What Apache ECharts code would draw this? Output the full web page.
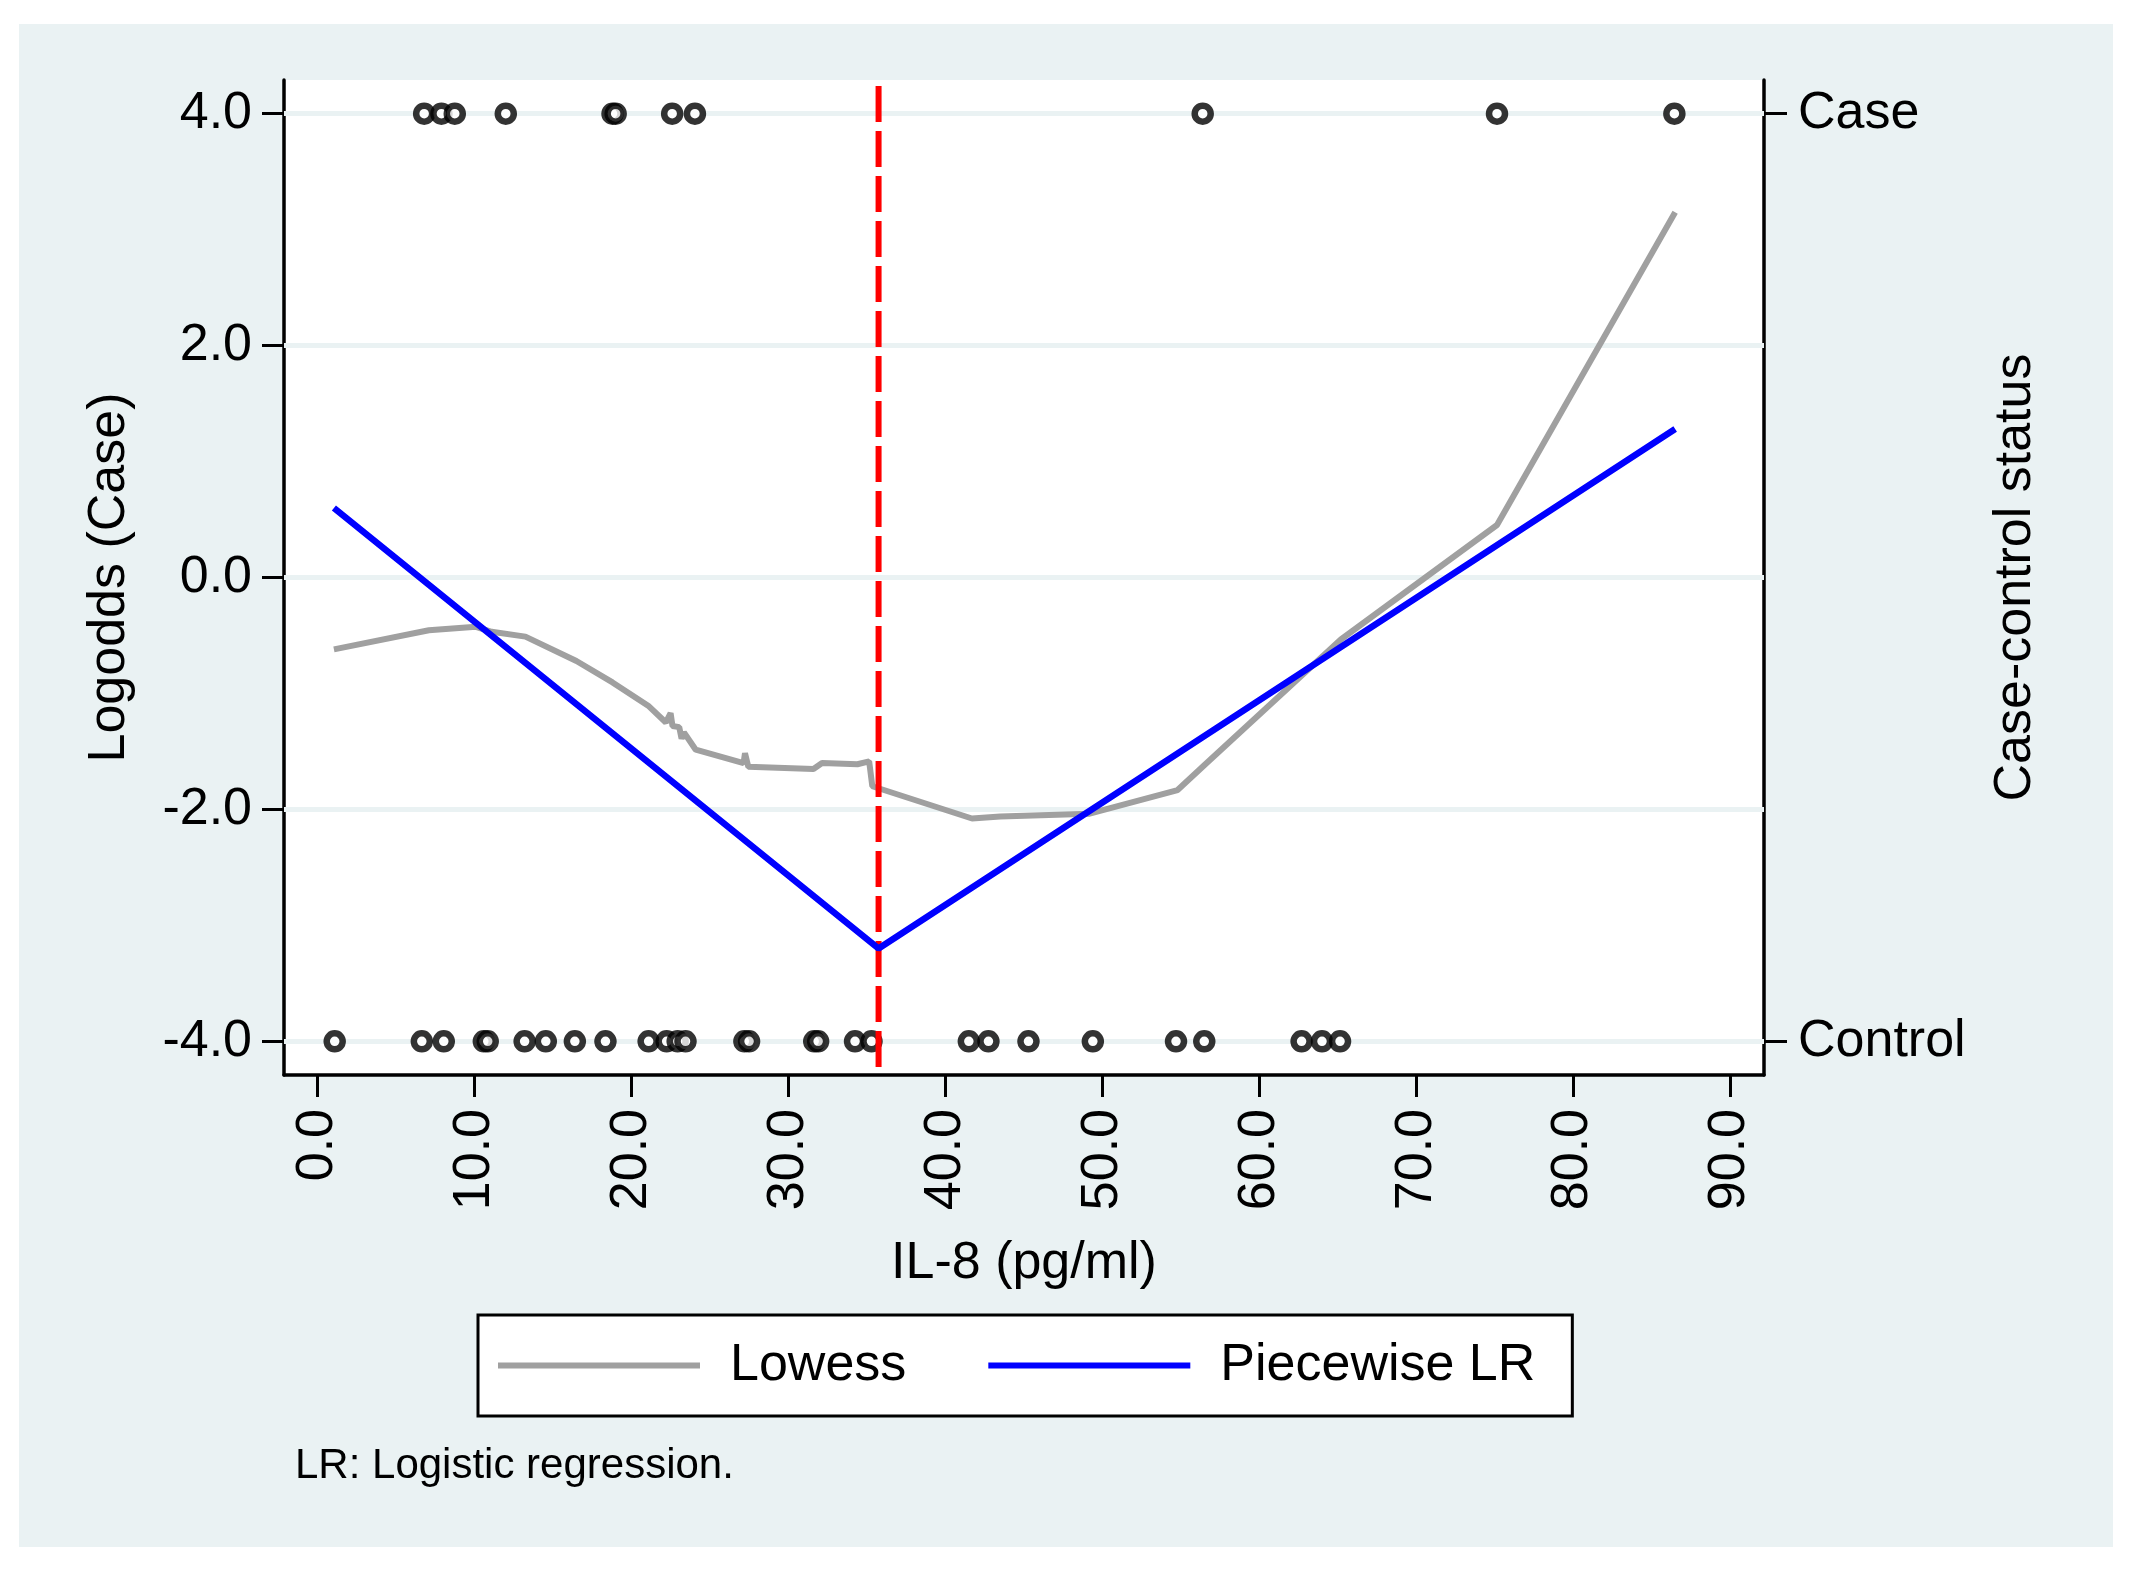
<!DOCTYPE html>
<html>
<head>
<meta charset="utf-8">
<script src="https://cdn.jsdelivr.net/npm/echarts@6/dist/echarts.min.js"></script>
<style>
  html, body { margin: 0; padding: 0; background: #ffffff; }
  #chart { position: absolute; left: 19px; top: 24px; width: 2094px; height: 1523px; }
</style>
</head>
<body>
<div id="chart"></div>
<script>
// ---- data ----
const yTicks = [-4, -2, 0, 2, 4];
const xTicks = [0, 10, 20, 30, 40, 50, 60, 70, 80, 90];
const statusTicks = [-4, 4];
const statusLabels = { '4': 'Case', '-4': 'Control' };

// IL-8 values of cases (plotted at Case = 4) and controls (plotted at Control = -4)
const caseX = [6.8, 7.9, 8.75, 12.0, 18.8, 19.0, 22.6, 24.05, 56.4, 75.15, 86.45];
const controlX = [1.1, 6.65, 8.05, 10.6, 10.85, 13.2, 14.55, 16.4, 18.35, 21.1, 22.25, 22.95, 23.45,
  27.2, 27.5, 31.65, 31.9, 34.25, 35.3, 41.5, 42.75, 45.3, 49.4, 54.7, 56.5, 62.7, 64.0, 65.15];

// Lowess smoother (x, logodds)
const lowessX = [1.05, 7.1, 10.1, 11.1, 13.25, 16.5, 18.8, 21.07, 22.2, 22.5, 22.62, 23.05, 23.2, 23.35,
  24.1, 27.15, 27.24, 27.45, 31.6, 32.15, 34.4, 35.15, 35.35, 41.7, 43.5, 49.2, 54.8, 56.55, 65.2, 75.15, 86.5];
const lowessY = [-0.62, -0.455, -0.425, -0.468, -0.51, -0.72, -0.905, -1.105, -1.25, -1.17, -1.28, -1.29, -1.39, -1.335,
  -1.485, -1.60, -1.515, -1.632, -1.652, -1.60, -1.61, -1.586, -1.80, -2.078, -2.06, -2.037, -1.833, -1.613, -0.535, 0.453, 3.15];

// Piecewise logistic regression (x, logodds)
const pieceX = [1.05, 35.75, 86.5];
const pieceY = [0.60, -3.20, 1.28];

// cut point
const cutX = 35.75;
const yMin = -4.29, yMax = 4.29;
const xMin = -2.13, xMax = 92.16;

// ---- chart ----
const FONT = '"Liberation Sans", Arial, Helvetica, sans-serif';
const BG = '#EAF2F3';
const chart = echarts.init(document.getElementById('chart'), null, { renderer: 'canvas' });

const zip = (xs, ys) => xs.map((x, i) => [x, ys[i]]);

const option = {
  animation: false,
  backgroundColor: BG,
  textStyle: { fontFamily: FONT, color: '#000' },
  grid: {
    left: 265, top: 56, right: 349, bottom: 472,
    show: true, backgroundColor: '#ffffff', borderWidth: 0
  },
  legend: {
    left: 459, top: 1291,
    orient: 'horizontal',
    data: [{ name: 'Lowess', icon: 'rect' }, { name: 'Piecewise LR', icon: 'rect' }],
    itemWidth: 202, itemHeight: 6, itemGap: 82,
    padding: [20, 37, 20, 20],
    backgroundColor: '#ffffff', borderColor: '#000', borderWidth: 3, borderRadius: 0,
    textStyle: { fontSize: 52, fontFamily: FONT, color: '#000', lineHeight: 61, padding: [0, 0, 0, 25] },
    selectedMode: false
  },
  xAxis: {
    type: 'value', min: xMin, max: xMax,
    name: 'IL-8 (pg/ml)', nameLocation: 'middle', nameGap: 163,
    nameTextStyle: { fontSize: 52, fontFamily: FONT, color: '#000' },
    axisLine: { show: true, onZero: false, lineStyle: { color: '#000', width: 3.5 } },
    axisTick: { show: true, length: 22, customValues: xTicks, lineStyle: { color: '#000', width: 3 } },
    axisLabel: {
      show: true, rotate: 90, margin: 34, customValues: xTicks,
      fontSize: 52, fontFamily: FONT, color: '#000',
      formatter: v => Number(v).toFixed(1)
    },
    splitLine: { show: false }
  },
  yAxis: [
    {
      type: 'value', min: yMin, max: yMax, position: 'left',
      name: 'Logodds (Case)', nameLocation: 'middle', nameGap: 148,
      nameTextStyle: { fontSize: 52, fontFamily: FONT, color: '#000' },
      axisLine: { show: true, onZero: false, lineStyle: { color: '#000', width: 3.5 } },
      axisTick: { show: true, length: 22, customValues: yTicks, lineStyle: { color: '#000', width: 3 } },
      axisLabel: {
        show: true, margin: 32, customValues: yTicks,
        fontSize: 52, fontFamily: FONT, color: '#000',
        formatter: v => Number(v).toFixed(1)
      },
      splitLine: { show: false }
    },
    {
      type: 'value', min: yMin, max: yMax, position: 'right',
      name: 'Case-control status', nameLocation: 'middle', nameGap: 226,
      nameTextStyle: { fontSize: 52, fontFamily: FONT, color: '#000' },
      axisLine: { show: true, onZero: false, lineStyle: { color: '#000', width: 3.5 } },
      axisTick: { show: true, length: 23, customValues: statusTicks, lineStyle: { color: '#000', width: 3 } },
      axisLabel: {
        show: true, margin: 34, customValues: statusTicks,
        fontSize: 52, fontFamily: FONT, color: '#000',
        formatter: v => statusLabels[String(Math.round(v))] || ''
      },
      splitLine: { show: false }
    }
  ],
  series: [
    {
      name: 'grid', type: 'scatter', data: [], z: 1, silent: true,
      markLine: {
        z: 1, zlevel: 0,
        silent: true, symbol: ['none', 'none'], animation: false,
        label: { show: false },
        lineStyle: { color: BG, width: 5, type: 'solid' },
        data: yTicks.map(v => ({ yAxis: v }))
      }
    },
    {
      name: 'Status', type: 'scatter', z: 2, yAxisIndex: 0,
      symbol: 'circle', symbolSize: 16,
      itemStyle: { color: '#ffffff', borderColor: '#000', borderWidth: 6.5 },
      data: caseX.map(x => [x, 4]).concat(controlX.map(x => [x, -4]))
    },
    {
      name: 'Lowess', type: 'line', z: 3, showSymbol: false, symbol: 'none',
      color: '#A0A0A0',
      lineStyle: { color: '#A0A0A0', width: 6 },
      data: zip(lowessX, lowessY)
    },
    {
      name: 'cut', type: 'line', z: 4, showSymbol: false, symbol: 'none', silent: true,
      lineStyle: { color: '#FF0000', width: 6, type: [36, 9], dashOffset: -6 },
      data: [[cutX, yMax], [cutX, yMin]]
    },
    {
      name: 'Piecewise LR', type: 'line', z: 5, showSymbol: false, symbol: 'none',
      color: '#0000FF',
      lineStyle: { color: '#0000FF', width: 6.5 },
      data: zip(pieceX, pieceY)
    }
  ],
  graphic: [
    {
      type: 'text', x: 276, y: 1442, z: 10,
      style: {
        text: 'LR: Logistic regression.',
        fontSize: 42, fontFamily: FONT, fill: '#000',
        verticalAlign: 'middle', align: 'left'
      }
    }
  ]
};

chart.setOption(option);
</script>
</body>
</html>
